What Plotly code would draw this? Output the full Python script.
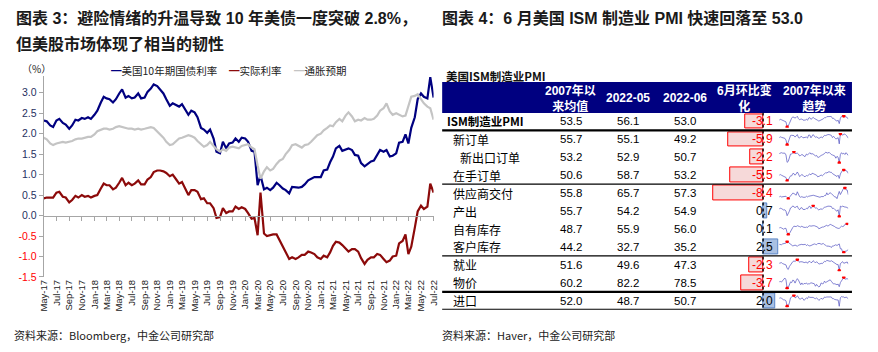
import numpy as np
import pandas as pd
import plotly.graph_objects as go

W, H = 878, 352
LAT = "Liberation Sans, Arial, Noto Sans CJK SC, sans-serif"
CJK = "Noto Sans CJK SC, Liberation Sans, sans-serif"

# ---------------- left chart data (semi-monthly) ----------------
dates = pd.date_range("2017-05-01", "2022-07-01", freq="SMS")

ust10y = [
    2.32, 2.30, 2.20, 2.16, 2.32, 2.36, 2.26, 2.22, 2.12, 2.20, 2.34, 2.32, 2.38, 2.36, 2.40, 2.36,
    2.46, 2.56, 2.76, 2.90, 2.86, 2.84, 2.76, 2.84, 2.98, 3.08, 2.88, 2.92, 2.86, 2.88, 2.98, 2.86,
    2.88, 3.02, 3.10, 3.20, 3.16, 3.08, 2.98, 2.84,
    2.68, 2.74, 2.70, 2.66, 2.72, 2.60, 2.46, 2.56, 2.52, 2.40, 2.14, 2.10, 2.02, 2.10, 1.88, 1.56,
    1.52, 1.80, 1.64, 1.76, 1.78, 1.88, 1.80, 1.90,
    1.88, 1.80, 1.58, 1.56, 0.74, 0.98, 0.64, 0.68, 0.62, 0.68, 0.80, 0.74, 0.66, 0.62, 0.54, 0.70,
    0.68, 0.68, 0.70, 0.76, 0.86, 0.90, 0.94, 0.94,
    0.94, 1.10, 1.12, 1.30, 1.44, 1.64, 1.70, 1.58, 1.62, 1.64, 1.60, 1.48, 1.46, 1.28, 1.20, 1.26,
    1.32, 1.34, 1.50, 1.60, 1.56, 1.60, 1.44, 1.46,
    1.52, 1.78, 1.80, 1.98, 1.76, 2.14, 2.40, 2.84, 2.98, 2.90, 2.86, 3.38, 2.88,
]
real_rate = [
    0.42, 0.44, 0.44, 0.44, 0.56, 0.58, 0.46, 0.44, 0.32, 0.38, 0.48, 0.44, 0.50, 0.46, 0.48, 0.44,
    0.48, 0.50, 0.66, 0.78, 0.74, 0.74, 0.64, 0.68, 0.80, 0.92, 0.74, 0.80, 0.74, 0.78, 0.86, 0.76,
    0.76, 0.88, 0.94, 1.06, 1.10, 1.10, 1.08, 1.04,
    0.96, 1.00, 0.88, 0.78, 0.82, 0.68, 0.50, 0.62, 0.62, 0.58, 0.40, 0.42, 0.30, 0.30, 0.18, -0.06,
    -0.04, 0.18, 0.06, 0.10, 0.10, 0.22, 0.16, 0.20,
    0.16, 0.06, -0.08, -0.06, -0.48, 0.56, -0.44, -0.50, -0.48, -0.46, -0.46, -0.60, -0.72, -0.88, -1.06, -1.02,
    -1.06, -1.02, -0.96, -0.96, -0.88, -0.90, -0.94, -1.02,
    -1.06, -0.98, -1.02, -0.90, -0.74, -0.64, -0.66, -0.72, -0.82, -0.88, -0.82, -0.82, -0.88, -1.04, -1.18, -1.08,
    -1.02, -1.02, -0.94, -0.96, -1.06, -1.14, -1.10, -1.00,
    -0.98, -0.68, -0.62, -0.46, -0.94, -0.76, -0.30, 0.10, 0.24, 0.16, 0.22, 0.78, 0.56,
]
breakeven = [
    1.90, 1.86, 1.76, 1.72, 1.76, 1.78, 1.80, 1.78, 1.80, 1.82, 1.86, 1.88, 1.88, 1.90, 1.92, 1.92,
    1.98, 2.06, 2.10, 2.12, 2.12, 2.10, 2.12, 2.16, 2.18, 2.16, 2.14, 2.12, 2.12, 2.10, 2.12, 2.10,
    2.12, 2.14, 2.16, 2.14, 2.06, 1.98, 1.90, 1.80,
    1.72, 1.74, 1.82, 1.88, 1.90, 1.92, 1.96, 1.94, 1.90, 1.82, 1.74, 1.68, 1.72, 1.80, 1.70, 1.62,
    1.56, 1.62, 1.58, 1.66, 1.68, 1.66, 1.64, 1.70,
    1.72, 1.74, 1.66, 1.62, 1.22, 0.90, 1.08, 1.18, 1.10, 1.14, 1.26, 1.34, 1.38, 1.50, 1.60, 1.72,
    1.74, 1.70, 1.66, 1.72, 1.74, 1.80, 1.88, 1.96,
    2.00, 2.08, 2.14, 2.20, 2.18, 2.28, 2.36, 2.30, 2.44, 2.52, 2.42, 2.30, 2.34, 2.32, 2.38, 2.34,
    2.34, 2.36, 2.44, 2.56, 2.62, 2.74, 2.54, 2.46,
    2.50, 2.46, 2.42, 2.44, 2.70, 2.90, 2.92, 2.96, 2.84, 2.74, 2.66, 2.62, 2.34,
]
series_names = ["美国10年期国债利率", "实际利率", "通胀预期"]
series_colors = ["#000080", "#8C0A0A", "#C4C4C4"]

y_tick_vals = [3.0, 2.5, 2.0, 1.5, 1.0, 0.5, 0.0, -0.5, -1.0, -1.5]
y_tick_text = ["3.0", "2.5", "2.0", "1.5", "1.0", "0.5", "0.0", "-0.5", "-1.0", "-1.5"]

# ---------------- right table data ----------------
rows = ["ISM制造业PMI", "新订单", "新出口订单", "在手订单", "供应商交付", "产出",
        "自有库存", "客户库存", "就业", "物价", "进口"]
avg_since_2007 = [53.5, 55.7, 53.2, 50.6, 55.8, 55.7, 48.7, 44.2, 51.6, 60.2, 52.0]
val_2022_05 = [56.1, 55.1, 52.9, 58.7, 65.7, 54.2, 55.9, 32.7, 49.6, 82.2, 48.7]
val_2022_06 = [53.0, 49.2, 50.7, 53.2, 57.3, 54.9, 56.0, 35.2, 47.3, 78.5, 50.7]
mom_change = [-3.1, -5.9, -2.2, -5.5, -8.4, 0.7, 0.1, 2.5, -2.3, -3.7, 2.0]
header_cols = ["2007年以<br>来均值", "2022-05", "2022-06", "6月环比变<br>化", "2007年以来<br>趋势"]

quarters = pd.period_range("2007Q1", "2022Q2", freq="Q").to_timestamp()
spark_pmi = [50.5, 52.5, 51.5, 50.0, 48.8, 49.0, 46.0, 33.0, 35.5, 42.0, 52.0, 55.5, 59.0, 57.5, 56.0, 57.5,
             60.5, 54.5, 51.5, 53.0, 53.5, 50.5, 51.0, 50.5, 53.0, 50.0, 56.0, 57.0, 52.5, 55.0, 57.5, 55.0,
             52.5, 52.5, 50.0, 48.0, 49.5, 52.0, 51.5, 54.0, 57.0, 56.5, 59.5, 59.5, 60.0, 59.5, 60.0, 55.0,
             55.5, 52.0, 48.5, 47.8, 50.5, 41.5, 55.5, 60.5, 61.0, 61.5, 60.0, 58.5, 57.5, 53.0]
spark_new_orders = [52, 55, 53, 52, 48, 49, 42, 23, 34, 47, 60, 61, 62, 60, 54, 60, 64, 52, 50, 56, 56, 51, 52, 51,
                    54, 50, 62, 62, 51, 58, 64, 58, 53, 55, 51, 49, 51, 55, 51, 56, 61, 60, 63, 64, 64, 63, 61, 52,
                    57, 51, 47, 48, 52, 27, 67, 67, 61, 66, 66, 61, 57, 49.2]
spark_export = [55, 56, 57, 56, 56, 56, 52, 36, 38, 45, 54, 54, 56, 59, 55, 56, 56, 54, 50, 51, 53, 52, 49, 49,
                54, 52, 55, 57, 54, 55, 54, 52, 50, 51, 47, 47, 50, 51, 52, 53, 55, 58, 57, 56, 58, 55, 53, 52,
                51, 50, 45, 49, 47, 35, 53, 57, 54, 56, 53, 57, 54, 50.7]
spark_backlog = [48, 50, 48, 46, 44, 44, 41, 31, 33, 40, 46, 46, 53, 53, 48, 52, 58, 52, 44, 47, 50, 48, 44, 44,
                 47, 46, 50, 52, 49, 54, 53, 51, 49, 48, 43, 44, 46, 49, 46, 49, 54, 56, 55, 56, 59, 57, 57, 53,
                 50, 48, 45, 44, 48, 38, 52, 58, 64, 65, 64, 62, 60, 53.2]
spark_deliveries = [51, 53, 51, 52, 52, 54, 53, 49, 46, 50, 54, 57, 62, 61, 57, 56, 66, 57, 52, 50, 52, 50, 50, 50,
                    53, 51, 53, 53, 55, 55, 56, 55, 54, 52, 50, 51, 50, 52, 51, 52, 55, 55, 63, 57, 61, 63, 61, 57,
                    54, 51, 51, 46, 57, 67, 58, 64, 70, 77, 78, 72, 71, 57.3]
spark_production = [53, 55, 54, 52, 49, 50, 45, 30, 36, 45, 56, 58, 63, 61, 57, 60, 62, 54, 50, 56, 57, 51, 51, 51,
                     55, 53, 60, 62, 54, 61, 64, 60, 55, 56, 51, 49, 52, 53, 51, 56, 59, 59, 61, 62, 62, 61, 61, 54,
                     55, 51, 47, 45, 50, 27, 62, 60, 62, 60, 59, 59, 56, 54.9]
spark_inventories = [47, 48, 47, 45, 44, 46, 46, 36, 32, 34, 40, 43, 48, 51, 50, 50, 52, 50, 50, 49, 51, 49, 48, 48,
                     49, 48, 51, 52, 51, 52, 52, 52, 51, 50, 49, 45, 47, 47, 49, 49, 51, 51, 53, 51, 53, 55, 54, 53,
                     51, 50, 48, 46, 46, 46, 48, 51, 50, 51, 55, 55, 57, 56.0]
spark_cust_inv = [48, 47, 47, 49, 50, 50, 51, 55, 53, 51, 47, 45, 44, 45, 46, 45, 43, 46, 47, 48, 48, 47, 48, 48,
                  45, 47, 45, 44, 45, 46, 46, 49, 48, 47, 50, 50, 50, 48, 50, 50, 47, 46, 43, 44, 43, 43, 40, 44,
                  44, 45, 47, 45, 48, 49, 37, 37, 29, 28, 31, 31, 33, 35.2]
spark_employment = [50, 52, 52, 49, 47, 46, 45, 34, 31, 40, 46, 51, 55, 57, 56, 58, 62, 58, 53, 55, 55, 54, 52, 52,
                    54, 50, 55, 56, 52, 53, 58, 55, 51, 55, 50, 48, 48, 50, 49, 53, 56, 55, 59, 58, 57, 56, 58, 55,
                    55, 52, 47, 46, 46, 28, 49, 52, 55, 50, 52, 54, 54, 47.3]
spark_prices = [65, 67, 63, 73, 80, 88, 77, 25, 30, 47, 64, 60, 75, 72, 57, 72, 84, 75, 56, 47, 58, 48, 55, 53,
                58, 50, 53, 53, 59, 58, 58, 53, 38, 49, 39, 34, 38, 58, 53, 54, 69, 60, 65, 69, 74, 77, 68, 60,
                51, 53, 49, 47, 51, 35, 60, 73, 84, 92, 81, 82, 84, 78.5]
spark_imports = [52, 53, 52, 49, 48, 48, 46, 33, 34, 41, 53, 55, 58, 59, 53, 54, 58, 53, 50, 50, 53, 51, 47, 50,
                 53, 51, 56, 54, 54, 54, 54, 52, 51, 53, 49, 47, 49, 52, 50, 51, 55, 54, 55, 55, 55, 55, 55, 51,
                 51, 49, 48, 48, 48, 33, 53, 56, 55, 55, 53, 55, 53, 50.7]
sparklines = [spark_pmi, spark_new_orders, spark_export, spark_backlog, spark_deliveries, spark_production,
              spark_inventories, spark_cust_inv, spark_employment, spark_prices, spark_imports]


def px(x):
    return x / W


def py(y):
    return 1 - y / H


fig = go.Figure()

# ---------------- left chart ----------------
LX0, LX1 = 38.3, 433.0
LY_TOP, LY_BOT = 77.6, 281.8
YMIN, YMAX = -1.5, 3.4
ydom = [py(LY_BOT), py(LY_TOP)]
zero_pos = ydom[0] + (0 - YMIN) / (YMAX - YMIN) * (ydom[1] - ydom[0])

for name, vals, col in zip(series_names, [ust10y, real_rate, breakeven], series_colors):
    fig.add_trace(go.Scatter(x=dates, y=vals, mode="lines", name=name, showlegend=False,
                             line=dict(color=col, width=2.2), xaxis="x", yaxis="y"))
fig.add_trace(go.Scatter(x=[dates[0], dates[-1]], y=[None, None], mode="lines", showlegend=False,
                         xaxis="x2", yaxis="y", hoverinfo="skip"))

tick_colored = [
    (f"<span style='color:#FF0000'>{t}</span>" if v < 0 else f"<span style='color:#1F2F5F'>{t}</span>")
    for v, t in zip(y_tick_vals, y_tick_text)
]

xr = [dates[0], dates[-1]]
layout = dict(
    width=W, height=H, margin=dict(l=0, r=0, t=0, b=0),
    paper_bgcolor="white", plot_bgcolor="rgba(0,0,0,0)",
    font=dict(family=LAT, color="#1a1a1a"),
    xaxis=dict(domain=[px(LX0), px(LX1)], anchor="y", type="date", range=xr,
               tickmode="linear", tick0="2017-05-01", dtick="M2", tickformat="%b-%y",
               tickangle=-90, ticks="", showline=False, showgrid=False, zeroline=False,
               tickfont=dict(size=9.5, color="#222", family=LAT)),
    xaxis2=dict(overlaying="x", anchor="free", position=zero_pos, type="date", range=xr,
                tickmode="linear", tick0="2017-05-01", dtick="M2", ticks="outside", ticklen=4,
                tickcolor="#A6A6A6", showticklabels=False, showline=True, linecolor="#A6A6A6",
                linewidth=1.2, showgrid=False, zeroline=False),
    yaxis=dict(domain=ydom, anchor="x", range=[YMIN, YMAX], tickmode="array",
               tickvals=y_tick_vals, ticktext=tick_colored, ticks="outside", ticklen=4,
               tickcolor="#A6A6A6", showline=True, linecolor="#A6A6A6", linewidth=1.2,
               showgrid=False, zeroline=False, tickfont=dict(size=10.5, family=LAT)),
)

# ---------------- right table ----------------
ROW0, ROWH = 123.5, 18.25
n = len(rows)
t_top = ROW0 - ROWH / 2
t_bot = ROW0 + ROWH * (n - 1) + ROWH / 2
ydom3 = [py(t_bot), py(t_top)]
ZERO_X, PPU = 766.7, 6.0
BX0, BX1 = 700.0, 792.0
layout["xaxis3"] = dict(domain=[px(BX0), px(BX1)], anchor="y3",
                        range=[(BX0 - ZERO_X) / PPU, (BX1 - ZERO_X) / PPU], visible=False)
layout["yaxis3"] = dict(domain=ydom3, anchor="x3", range=[n - 0.5, -0.5], visible=False)

bar_fill = ["#F6D9D9" if v < 0 else "#A9C0E2" for v in mom_change]
bar_line = ["#FF0000" if v < 0 else "#5A86C8" for v in mom_change]
fig.add_trace(go.Bar(x=mom_change, y=list(range(n)), orientation="h", width=15 / ROWH,
                     marker=dict(color=bar_fill, line=dict(color=bar_line, width=1)),
                     xaxis="x3", yaxis="y3", showlegend=False, hoverinfo="skip"))

SX0, SX1 = 783.0, 853.0
for i, vals in enumerate(sparklines):
    k = 4 + i
    c = ROW0 + ROWH * i
    arr = np.array(vals, dtype=float)
    lo, hi = arr.min(), arr.max()
    pad = (hi - lo) * 0.08
    layout[f"xaxis{k}"] = dict(domain=[px(SX0), px(SX1)], anchor=f"y{k}", visible=False,
                               range=[quarters[0], quarters[-1]])
    layout[f"yaxis{k}"] = dict(domain=[py(c + 6.5), py(c - 6.5)], anchor=f"x{k}", visible=False,
                               range=[lo - pad, hi + pad])
    fig.add_trace(go.Scatter(x=quarters, y=vals, mode="lines", line=dict(color="#5050C0", width=0.7),
                             xaxis=f"x{k}", yaxis=f"y{k}", showlegend=False, hoverinfo="skip"))
    idx = [int(arr.argmin()), int(arr.argmax())]
    fig.add_trace(go.Scatter(x=[quarters[j] for j in idx], y=[vals[j] for j in idx], mode="markers",
                             marker=dict(color="#FF0000", size=3.5), xaxis=f"x{k}", yaxis=f"y{k}",
                             showlegend=False, hoverinfo="skip"))

shapes = []
annotations = []

# header band
TX0, TX1 = 441.7, 856.7
shapes.append(dict(type="rect", xref="paper", yref="paper", x0=px(TX0), x1=px(TX1),
                   y0=py(115.0), y1=py(83.3), fillcolor="#000080", line=dict(width=0), layer="below"))
col_centers = [571.7, 630.0, 687.5, 748.0, 818.3]
for cx, txt in zip(col_centers, header_cols):
    annotations.append(dict(x=px(cx), y=py(100.0), xref="paper", yref="paper", text=f"<b>{txt}</b>",
                            showarrow=False, xanchor="center", yanchor="middle",
                            font=dict(size=12, color="white", family=LAT)))

# horizontal rules
for yv, wdt in [(0.5, 2.2), (3.5, 1.2), (7.5, 1.2), (9.5, 2.2), (10.5, 2.2)]:
    shapes.append(dict(type="line", xref="paper", yref="y3", x0=px(TX0), x1=px(TX1), y0=yv, y1=yv,
                       line=dict(color="#000", width=wdt)))
# data bar axis
shapes.append(dict(type="line", xref="x3", yref="y3", x0=0, x1=0, y0=-0.5, y1=n - 0.5,
                   line=dict(color="#000", width=1.4, dash="dot")))

label_x = [445.0, 451.0, 457.7, 451.0, 451.0, 451.0, 451.0, 451.0, 451.0, 451.0, 451.0]
for i, name in enumerate(rows):
    txt = f"<b>{name}</b>" if i == 0 else name
    annotations.append(dict(x=px(label_x[i]), y=i, xref="paper", yref="y3", text=txt, showarrow=False,
                            xanchor="left", yanchor="middle", font=dict(size=12 if i else 11.5, family=CJK, color="#000")))
    for cx, v in zip(col_centers[:3], [avg_since_2007[i], val_2022_05[i], val_2022_06[i]]):
        annotations.append(dict(x=px(cx), y=i, xref="paper", yref="y3", text=f"{v:.1f}", showarrow=False,
                                xanchor="center", yanchor="middle", font=dict(size=11.5, family=LAT, color="#000")))
    ch = mom_change[i]
    annotations.append(dict(x=px(778.5), y=i, xref="paper", yref="y3", text=f"{ch:.1f}", showarrow=False,
                            xanchor="right", yanchor="middle",
                            font=dict(size=12, family=LAT, color="#FF0000" if ch < 0 else "#000")))

# titles / notes
annotations += [
    dict(x=px(8), y=py(18), xref="paper", yref="paper", showarrow=False, xanchor="left", yanchor="middle",
         text="<b>图表 3：避险情绪的升温导致 10 年美债一度突破 2.8%，</b>", font=dict(size=16, family=LAT, color="#1a1a1a")),
    dict(x=px(8), y=py(45), xref="paper", yref="paper", showarrow=False, xanchor="left", yanchor="middle",
         text="<b>但美股市场体现了相当的韧性</b>", font=dict(size=16, family=LAT, color="#1a1a1a")),
    dict(x=px(440), y=py(18), xref="paper", yref="paper", showarrow=False, xanchor="left", yanchor="middle",
         text="<b>图表 4：6 月美国 ISM 制造业 PMI 快速回落至 53.0</b>", font=dict(size=16, family=LAT, color="#1a1a1a")),
    dict(x=px(444), y=py(77), xref="paper", yref="paper", showarrow=False, xanchor="left", yanchor="middle",
         text="<b>美国ISM制造业PMI</b>", font=dict(size=11.5, family=CJK, color="#111")),
    dict(x=px(14), y=py(70), xref="paper", yref="paper", showarrow=False, xanchor="left", yanchor="middle",
         text="（%）", font=dict(size=10, family=CJK, color="#222")),
    dict(x=px(6), y=py(341), xref="paper", yref="paper", showarrow=False, xanchor="left", yanchor="middle",
         text="资料来源：Bloomberg，中金公司研究部", font=dict(size=11, family=CJK, color="#222")),
    dict(x=px(439), y=py(341), xref="paper", yref="paper", showarrow=False, xanchor="left", yanchor="middle",
         text="资料来源：Haver，中金公司研究部", font=dict(size=11, family=CJK, color="#222")),
]
# legend (line key + name)
legend_x = [104.0, 224.0, 290.0]
for lx, name, col in zip(legend_x, series_names, series_colors):
    annotations.append(dict(x=px(lx), y=py(72), xref="paper", yref="paper", showarrow=False,
                            xanchor="left", yanchor="middle",
                            text=f"<span style='color:{col}'>━</span>{name}",
                            font=dict(size=10.5, family=CJK, color="#222")))

layout["shapes"] = shapes
layout["annotations"] = annotations
layout["bargap"] = 0
fig.update_layout(**layout)
fig.write_html("out.html")
